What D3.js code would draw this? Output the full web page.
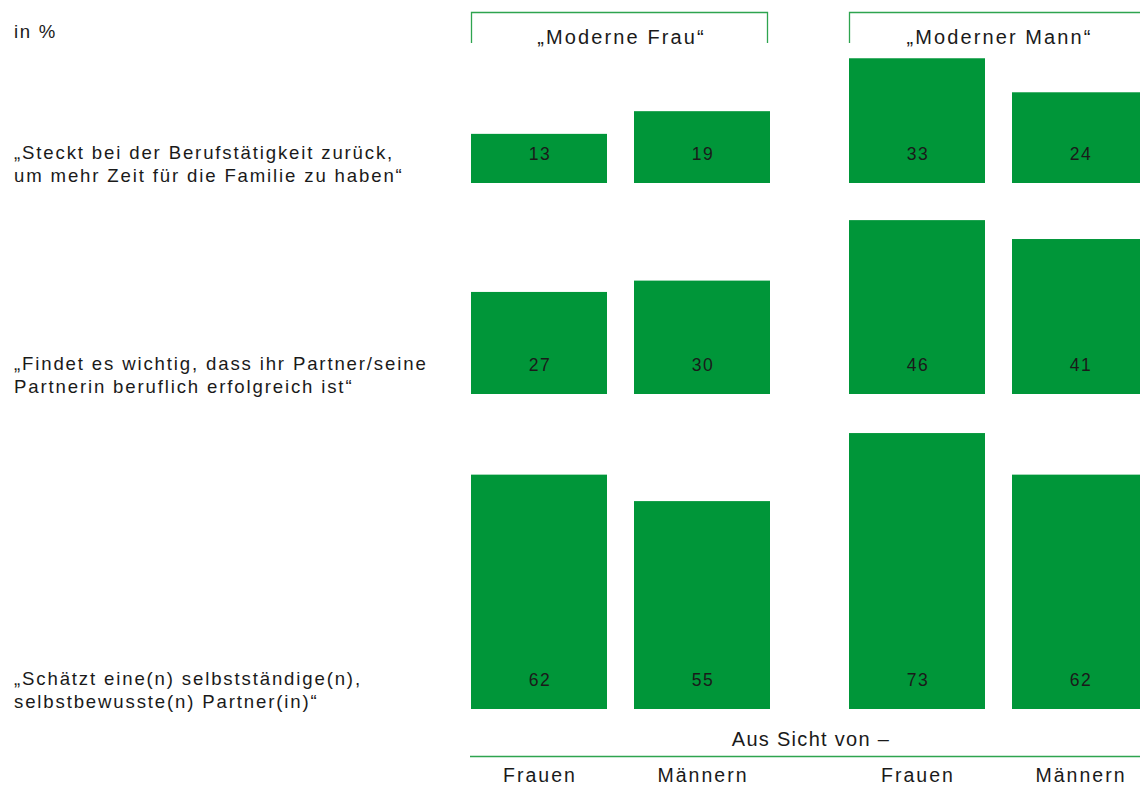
<!DOCTYPE html>
<html lang="de">
<head>
<meta charset="utf-8">
<script src="https://cdn.jsdelivr.net/npm/d3@7"></script>
<style>
  html, body { margin: 0; padding: 0; background: #fff; }
  svg { display: block; font-family: "Liberation Sans", Arial, sans-serif; }
</style>
</head>
<body>
<svg id="chart" width="1140" height="786"></svg>
<script>
// ---- data ----
const unitLabel = "in %";
const groups = ["„Moderne Frau“", "„Moderner Mann“"];
const viewers = ["Frauen", "Männern"];
const statements = [
  ["„Steckt bei der Berufstätigkeit zurück,", "um mehr Zeit für die Familie zu haben“"],
  ["„Findet es wichtig, dass ihr Partner/seine", "Partnerin beruflich erfolgreich ist“"],
  ["„Schätzt eine(n) selbstständige(n),", "selbstbewusste(n) Partner(in)“"]
];
const frauAusSichtFrauen = [13, 27, 62];
const frauAusSichtMaenner = [19, 30, 55];
const mannAusSichtFrauen = [33, 46, 73];
const mannAusSichtMaenner = [24, 41, 62];
const axisTitle = "Aus Sicht von –";

// ---- layout ----
const green = "#009639";
const lineGreen = "#2ea44f";
const textColor = "#1a1a1a";
const rowBaselines = [183, 394, 709];

const series = [
  { group: groups[0], viewer: viewers[0], values: frauAusSichtFrauen },
  { group: groups[0], viewer: viewers[1], values: frauAusSichtMaenner },
  { group: groups[1], viewer: viewers[0], values: mannAusSichtFrauen },
  { group: groups[1], viewer: viewers[1], values: mannAusSichtMaenner }
];

const svg = d3.select("#chart");

const xGroup = d3.scaleBand().domain(groups).range([471, 1148]).paddingInner(79 / 378).paddingOuter(0);
const xInner = d3.scaleBand().domain(viewers).range([0, xGroup.bandwidth()]).paddingInner(27 / 163).paddingOuter(0);
const h = d3.scaleLinear().domain([0, 100]).range([0, 378]);
const xOf = d => xGroup(d.group) + xInner(d.viewer);

function styled(sel, size, ls) {
  return sel.attr("font-size", size).attr("letter-spacing", ls).attr("fill", textColor);
}

// unit label
styled(svg.append("text"), 18.6, 1.7).attr("x", 14).attr("y", 38).text(unitLabel);

// group header brackets
const headerTop = 12.5, headerBottom = 43;
groups.forEach(g => {
  const x0 = xGroup(g), x1 = x0 + xGroup.bandwidth();
  svg.append("path")
    .attr("d", `M${x0 + 0.5},${headerBottom} V${headerTop} H${x1 - 2.5} V${headerBottom}`)
    .attr("fill", "none").attr("stroke", lineGreen).attr("stroke-width", 1.3);
  styled(svg.append("text"), 20, 2.1)
    .attr("x", x0 + xGroup.bandwidth() / 2 + 1).attr("y", 44)
    .attr("text-anchor", "middle")
    .text(g);
});

// rows
statements.forEach((lines, i) => {
  const base = rowBaselines[i];
  const t = styled(svg.append("text"), 18.6, 1.85);
  lines.forEach((ln, j) => {
    t.append("tspan").attr("x", 14).attr("y", base - 1 - (lines.length - 1 - j) * 23).text(ln);
  });

  const rowData = series.map(s => ({ ...s, value: s.values[i] }));
  svg.append("g").selectAll("rect").data(rowData).join("rect")
    .attr("x", d => xOf(d))
    .attr("width", xInner.bandwidth())
    .attr("y", d => base - h(d.value))
    .attr("height", d => h(d.value))
    .attr("fill", green);

  styled(svg.append("g").selectAll("text").data(rowData).join("text"), 17.5, 1.5)
    .attr("x", d => xOf(d) + xInner.bandwidth() / 2 + 1)
    .attr("y", base - 23)
    .attr("text-anchor", "middle")
    .text(d => d.value);
});

// bottom axis
styled(svg.append("text"), 20, 1.3)
  .attr("x", 811).attr("y", 746).attr("text-anchor", "middle").text(axisTitle);
svg.append("line").attr("x1", 470).attr("x2", 1140).attr("y1", 756.5).attr("y2", 756.5)
  .attr("stroke", lineGreen).attr("stroke-width", 1.5);
styled(svg.append("g").selectAll("text").data(series).join("text"), 19.5, 2)
  .attr("x", d => xOf(d) + xInner.bandwidth() / 2 + 1)
  .attr("y", 782)
  .attr("text-anchor", "middle")
  .text(d => d.viewer);
</script>
</body>
</html>
